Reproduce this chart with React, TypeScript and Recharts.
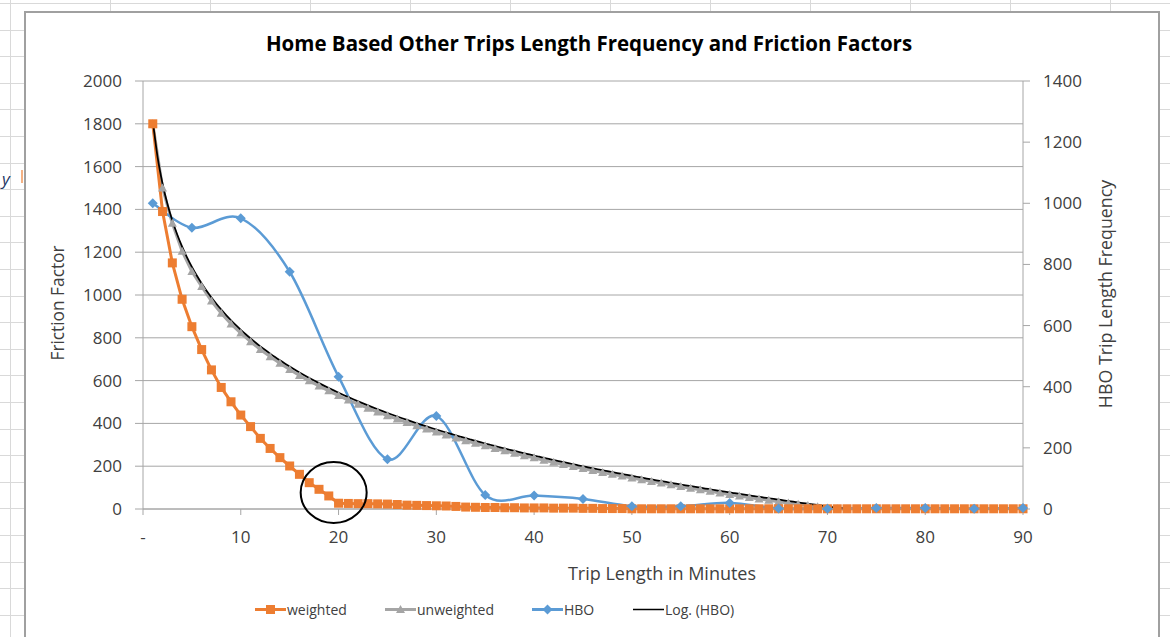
import React from 'react';
import { ComposedChart, Line, XAxis, YAxis, CartesianGrid, ReferenceDot } from 'recharts';

// Trip length in minutes for the friction factor series (1..90)
const minutes: number[] = Array.from({ length: 90 }, (_, i) => i + 1);

// Weighted friction factors, one per minute
const weighted: number[] = [
  1800, 1390, 1150, 980, 852, 745, 650, 568, 501, 439,
  385, 330, 283, 240, 201, 162, 123, 92, 61, 27,
  26, 25, 25, 24, 23, 21, 18, 17, 16, 15,
  14, 12, 9, 8, 7, 7, 6, 6, 5, 5,
  5, 4, 4, 4, 3, 3, 2, 2, 2, 1,
  1, 1, 1, 1, 1, 1, 1, 1, 1, 1,
  1, 1, 1, 1, 1, 1, 1, 1, 1, 1,
  1, 1, 1, 1, 1, 1, 1, 1, 1, 1,
  1, 1, 1, 1, 1, 1, 1, 1, 1, 1,
];

// Unweighted friction factors, minutes 1..72
const unweighted: number[] = [
  1800, 1500, 1335, 1205, 1110, 1040, 972, 915, 865, 822,
  782, 745, 712, 681, 652, 624, 599, 575, 552, 530,
  509, 490, 471, 453, 436, 420, 404, 389, 374, 360,
  346, 332, 319, 307, 295, 283, 272, 260, 249, 239,
  228, 218, 208, 199, 189, 180, 171, 162, 154, 145,
  137, 129, 121, 113, 105, 97, 90, 83, 75, 68,
  61, 54, 47, 41, 34, 28, 22, 16, 10, 5,
  1, 0,
];

// Observed HBO trip length frequency
const hboMinutes: number[] = [1, 5, 10, 15, 20, 25, 30, 35, 40, 45, 50, 55, 60, 65, 70, 75, 80, 85, 90];
const hboTrips: number[] = [1000, 920, 951, 776, 433, 163, 304, 46, 44, 33, 9, 9, 20, 2, 1, 3, 3, 1, 3];

const leftTicks = [0, 200, 400, 600, 800, 1000, 1200, 1400, 1600, 1800, 2000];
const rightTicks = [0, 200, 400, 600, 800, 1000, 1200, 1400];
const xTicks = [0, 10, 20, 30, 40, 50, 60, 70, 80, 90];

const ORANGE = '#ED7D31';
const GRAY = '#A5A5A5';
const BLUE = '#5B9BD5';
const AXIS = '#A6A6A6';
const TEXT = '#404040';
const FONT = '"Open Sans", "Noto Sans", sans-serif';

const weightedData = minutes.map((m, i) => ({ m, v: weighted[i] }));
const unweightedData = unweighted.map((v, i) => ({ m: minutes[i], v }));
const hboData = hboMinutes.map((m, i) => ({ m, v: hboTrips[i] }));

// Logarithmic least-squares trendline of the HBO series: y = a + b ln(x),
// drawn until it reaches the axis minimum.
const logFit = (() => {
  const n = hboMinutes.length;
  const lx = hboMinutes.map((m) => Math.log(m));
  const mx = lx.reduce((s, v) => s + v, 0) / n;
  const my = hboTrips.reduce((s, v) => s + v, 0) / n;
  let sxy = 0;
  let sxx = 0;
  lx.forEach((v, i) => {
    sxy += (v - mx) * (hboTrips[i] - my);
    sxx += (v - mx) * (v - mx);
  });
  const b = sxy / sxx;
  const a = my - b * mx;
  return { a, b };
})();
const trendEnd = Math.exp(-logFit.a / logFit.b);
const trendData: { m: number; v: number }[] = [];
for (let m = 1; m < trendEnd; m += 0.5) trendData.push({ m, v: logFit.a + logFit.b * Math.log(m) });
trendData.push({ m: trendEnd, v: 0 });

// Smoothed line: Catmull-Rom through every point.
const smoothCurve = (context: any) => {
  let pts: number[][] = [];
  return {
    areaStart() {},
    areaEnd() {},
    lineStart() {
      pts = [];
    },
    point(x: number, y: number) {
      pts.push([+x, +y]);
    },
    lineEnd() {
      const n = pts.length;
      if (!n) return;
      context.moveTo(pts[0][0], pts[0][1]);
      for (let i = 0; i < n - 1; i++) {
        const p0 = pts[Math.max(i - 1, 0)];
        const p1 = pts[i];
        const p2 = pts[i + 1];
        const p3 = pts[Math.min(i + 2, n - 1)];
        context.bezierCurveTo(
          p1[0] + (p2[0] - p0[0]) / 6,
          p1[1] + (p2[1] - p0[1]) / 6,
          p2[0] - (p3[0] - p1[0]) / 6,
          p2[1] - (p3[1] - p1[1]) / 6,
          p2[0],
          p2[1],
        );
      }
    },
  };
};

const squareDot = (p: any) => (
  <rect key={`sq-${p.index}`} x={p.cx - 4.5} y={p.cy - 4.5} width={9} height={9} fill={ORANGE} />
);
const triangleDot = (p: any) => (
  <path
    key={`tr-${p.index}`}
    d={`M${p.cx},${p.cy - 4.5}L${p.cx + 4.5},${p.cy + 3.5}L${p.cx - 4.5},${p.cy + 3.5}Z`}
    fill={GRAY}
  />
);
const diamondDot = (p: any) => (
  <path
    key={`di-${p.index}`}
    d={`M${p.cx},${p.cy - 5}L${p.cx + 5},${p.cy}L${p.cx},${p.cy + 5}L${p.cx - 5},${p.cy}Z`}
    fill={BLUE}
  />
);

const tickStyle = { fill: TEXT, fontSize: 17, fontFamily: FONT };

// Spreadsheet cell grid behind the chart object
const sheetRows = Array.from({ length: 25 }, (_, i) => 3 + i * 26.6);
const sheetCols = [10, 110, 210, 310, 410, 510, 610, 710, 810, 910, 1010, 1110];

const legendItems = [
  { name: 'weighted', color: ORANGE, marker: 'square', x: 255 },
  { name: 'unweighted', color: GRAY, marker: 'triangle', x: 385 },
  { name: 'HBO', color: BLUE, marker: 'diamond', x: 532 },
  { name: 'Log. (HBO)', color: '#000000', marker: 'none', x: 633 },
];

function LegendMarker({ color, marker }: { color: string; marker: string }) {
  return (
    <svg width={31} height={14} style={{ display: 'block' }}>
      <line x1={0} y1={7} x2={31} y2={7} stroke={color} strokeWidth={marker === 'none' ? 1.5 : 3} />
      {marker === 'square' && <rect x={11} y={2.5} width={9} height={9} fill={color} />}
      {marker === 'triangle' && <path d="M15.5,2.5L20,10.5L11,10.5Z" fill={color} />}
      {marker === 'diamond' && <path d="M15.5,2L20.5,7L15.5,12L10.5,7Z" fill={color} />}
    </svg>
  );
}

export default function App() {
  return (
    <div
      style={{
        position: 'absolute',
        left: 0,
        top: 0,
        width: 1170,
        height: 637,
        overflow: 'hidden',
        background: '#ffffff',
        fontFamily: FONT,
      }}
    >
      {sheetRows.map((y) => (
        <div key={`r${y}`} style={{ position: 'absolute', left: 0, top: y, width: 1170, height: 1, background: '#D9D9D9' }} />
      ))}
      {sheetCols.map((x) => (
        <div key={`c${x}`} style={{ position: 'absolute', left: x, top: 0, width: 1, height: 637, background: '#D9D9D9' }} />
      ))}
      <div style={{ position: 'absolute', left: 2, top: 167, fontSize: 17, fontStyle: 'italic', color: '#1F3864' }}>y</div>
      <div style={{ position: 'absolute', left: 21, top: 170, width: 2, height: 13, background: '#F4B183' }} />

      {/* chart object */}
      <div
        style={{
          position: 'absolute',
          left: 24,
          top: 11,
          width: 1132,
          height: 640,
          border: '2px solid #A0A0A0',
          background: '#ffffff',
        }}
      />

      <div
        style={{
          position: 'absolute',
          left: 589,
          top: 43,
          transform: 'translate(-50%, -50%)',
          whiteSpace: 'nowrap',
          fontWeight: 700,
          fontSize: 20.5,
          color: '#000000',
        }}
      >
        Home Based Other Trips Length Frequency and Friction Factors
      </div>

      <div style={{ position: 'absolute', left: 0, top: 0 }}>
        <ComposedChart width={1170} height={637} margin={{ top: 81, right: 0, bottom: 0, left: 0 }}>
          <CartesianGrid yAxisId="left" vertical={false} stroke={AXIS} strokeWidth={1} />
          <XAxis
            dataKey="m"
            type="number"
            domain={[0, 90]}
            ticks={xTicks}
            interval={0}
            height={128}
            tickSize={6}
            tickMargin={16}
            tick={tickStyle}
            stroke={AXIS}
            tickFormatter={(v: number) => (v === 0 ? '-' : String(v))}
            allowDuplicatedCategory={false}
          />
          <YAxis
            yAxisId="left"
            orientation="left"
            width={143}
            domain={[0, 2000]}
            ticks={leftTicks}
            interval={0}
            tickSize={8}
            tickMargin={13}
            tick={tickStyle}
            stroke={AXIS}
          />
          <YAxis
            yAxisId="right"
            orientation="right"
            width={147}
            domain={[0, 1400]}
            ticks={rightTicks}
            interval={0}
            tickSize={7}
            tickMargin={13}
            tick={tickStyle}
            stroke={AXIS}
          />
          <Line
            yAxisId="left"
            data={unweightedData}
            dataKey="v"
            name="unweighted"
            type="linear"
            stroke={GRAY}
            strokeWidth={3}
            dot={triangleDot}
            activeDot={false}
            isAnimationActive={false}
          />
          <Line
            yAxisId="left"
            data={weightedData}
            dataKey="v"
            name="weighted"
            type="linear"
            stroke={ORANGE}
            strokeWidth={3}
            dot={squareDot}
            activeDot={false}
            isAnimationActive={false}
          />
          <Line
            yAxisId="right"
            data={hboData}
            dataKey="v"
            name="HBO"
            type={smoothCurve as any}
            stroke={BLUE}
            strokeWidth={2.5}
            dot={diamondDot}
            activeDot={false}
            isAnimationActive={false}
          />
          <Line
            yAxisId="right"
            data={trendData}
            dataKey="v"
            name="Log. (HBO)"
            type="monotone"
            stroke="#000000"
            strokeWidth={1.75}
            dot={false}
            activeDot={false}
            isAnimationActive={false}
          />
          <ReferenceDot
            yAxisId="left"
            x={19.5}
            y={77}
            r={32}
            shape={(p: any) => (
              <ellipse cx={p.cx} cy={p.cy} rx={33} ry={30.5} fill="none" stroke="#000000" strokeWidth={2} />
            )}
          />
        </ComposedChart>
      </div>

      <div
        style={{
          position: 'absolute',
          left: 57,
          top: 303,
          transform: 'translate(-50%, -50%) rotate(-90deg)',
          whiteSpace: 'nowrap',
          fontSize: 17.3,
          color: TEXT,
        }}
      >
        Friction Factor
      </div>
      <div
        style={{
          position: 'absolute',
          left: 1105,
          top: 294,
          transform: 'translate(-50%, -50%) rotate(-90deg)',
          whiteSpace: 'nowrap',
          fontSize: 17.8,
          color: TEXT,
        }}
      >
        HBO Trip Length Frequency
      </div>
      <div
        style={{
          position: 'absolute',
          left: 662,
          top: 573,
          transform: 'translate(-50%, -50%)',
          whiteSpace: 'nowrap',
          fontSize: 18,
          color: TEXT,
        }}
      >
        Trip Length in Minutes
      </div>

      {legendItems.map((it) => (
        <div
          key={it.name}
          style={{
            position: 'absolute',
            left: it.x,
            top: 609,
            transform: 'translateY(-50%)',
            display: 'flex',
            alignItems: 'center',
            whiteSpace: 'nowrap',
            fontSize: 14,
            color: TEXT,
          }}
        >
          <LegendMarker color={it.color} marker={it.marker} />
          <span style={{ marginLeft: 1 }}>{it.name}</span>
        </div>
      ))}
    </div>
  );
}
